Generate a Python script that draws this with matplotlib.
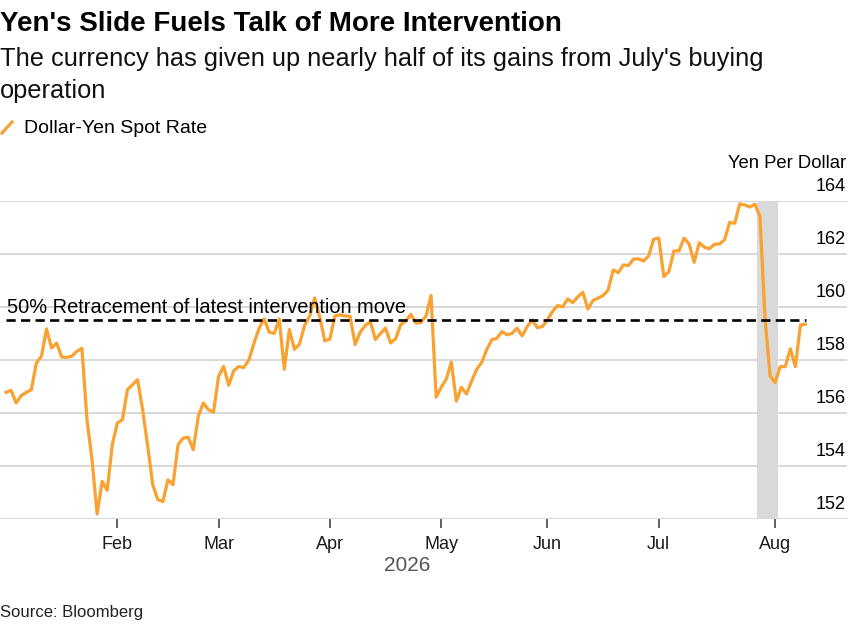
import matplotlib
matplotlib.use("Agg")
import matplotlib.pyplot as plt
import matplotlib.transforms as mtransforms
from matplotlib.lines import Line2D
import pandas as pd

# business days shown on the x axis
dates = pd.bdate_range("2026-01-01", "2026-08-11")

# dollar-yen spot rate (one value per business day)
usdjpy = [
    156.78, 156.86, 156.38, 156.66, 156.78, 156.88, 157.89, 158.14, 159.17, 158.45,
    158.64, 158.11, 158.10, 158.14, 158.33, 158.44, 155.75, 154.24, 152.20, 153.43,
    153.09, 154.81, 155.63, 155.75,
    156.88, 157.07, 157.26, 156.13, 154.75, 153.30, 152.74, 152.67, 153.49, 153.30,
    154.81, 155.06, 155.09, 154.62, 155.88, 156.38, 156.13, 156.03, 157.38, 157.76,
    157.05,
    157.60, 157.75, 157.72, 158.00, 158.63, 159.19, 159.55, 159.05, 159.00, 159.55,
    157.65, 159.15, 158.40, 158.60, 159.30, 159.65, 160.34, 159.62, 158.72, 158.79,
    159.66, 159.70, 159.66, 159.64, 158.58, 159.05, 159.30, 159.45, 158.77, 159.00,
    159.20, 158.64, 158.80, 159.33, 159.47, 159.72, 159.39, 159.41, 159.66, 160.43,
    156.60, 156.97, 157.28, 157.92, 156.45, 156.97, 156.72, 157.20, 157.64, 157.91,
    158.39, 158.76, 158.82, 159.07, 158.95, 159.00, 159.20, 158.91, 159.26, 159.51,
    159.22, 159.26, 159.51, 159.83,
    160.05, 160.00, 160.30, 160.16, 160.38, 160.55, 159.92, 160.24, 160.33, 160.43,
    160.64, 161.39, 161.29, 161.58, 161.56, 161.80, 161.81, 161.73, 161.92, 162.55,
    162.59,
    161.14, 161.33, 162.11, 162.11, 162.59, 162.37, 161.68, 162.42, 162.25, 162.19,
    162.36, 162.37, 162.53, 163.18, 163.15, 163.88, 163.84, 163.76, 163.87, 163.40,
    159.57, 157.40, 157.15, 157.75, 157.75, 158.42, 157.75, 159.32, 159.35,
]

retracement = 159.49
retracement_label = "50% Retracement of latest intervention move"
intervention_days = ("2026-07-29", "2026-08-03")
y_ticks = [152, 154, 156, 158, 160, 162, 164]

ORANGE = "#F9A131"

plt.rcParams["font.family"] = ["Liberation Sans", "DejaVu Sans"]

W, H = 860, 641
fig = plt.figure(figsize=(W / 100, H / 100), dpi=100)
ax = fig.add_axes([0, 1 - 519.3 / H, 847 / W, (519.3 - 200.7) / H])

x = list(range(len(dates)))
ax.plot(x, usdjpy, color=ORANGE, lw=2.3, zorder=3)

# intervention window
i0 = dates.get_loc(pd.Timestamp(intervention_days[0]))
i1 = dates.get_loc(pd.Timestamp(intervention_days[1]))
ax.axvspan(i0 - 0.5, i1 + 0.5, color="#d9d9d9", lw=0, zorder=1)

# 50% retracement level
ax.hlines(retracement, x[0], x[-1], colors="black", lw=1.9,
          linestyles=(0, (3.5, 2.0)), zorder=4)
ax.annotate(retracement_label, xy=(x[0], retracement), xytext=(1, 7),
            textcoords="offset pixels", va="baseline", fontsize=14.4, zorder=5)

ax.set_xlim(-1.19, 166.2)
ax.set_ylim(y_ticks[0], y_ticks[-1])

ax.set_yticks(y_ticks)
ax.yaxis.grid(True, color="#d5d5d5", lw=1.3)
ax.set_axisbelow(True)
ax.tick_params(axis="y", length=0, labelleft=False, labelright=False)
for s in ax.spines.values():
    s.set_visible(False)

# y labels sit above the gridlines on the right
trans = mtransforms.blended_transform_factory(ax.transAxes, ax.transData)
for v in y_ticks:
    ax.annotate(str(v), xy=(1, v), xycoords=trans, xytext=(-1, 10),
                textcoords="offset pixels", ha="right", va="baseline",
                fontsize=13, annotation_clip=False)
fig.text(846 / W, 1 - 168.5 / H, "Yen Per Dollar", ha="right", va="baseline",
         fontsize=13.3)

# month ticks at first business day of each month
month_pos = [i for i in range(1, len(dates)) if dates[i].month != dates[i - 1].month]
ax.set_xticks(month_pos, [dates[i].strftime("%b") for i in month_pos])
ax.tick_params(axis="x", length=6.5, width=1.1, color="#333333", pad=5.5,
               labelsize=13, labelcolor="#1a1a1a")
fig.text(407 / W, 1 - 571 / H, "2026", ha="center", va="baseline",
         color="#555555", fontsize=15)

# title, subtitle, legend, source
fig.text(0, 1 - 30.7 / H, "Yen's Slide Fuels Talk of More Intervention",
         fontsize=20, fontweight="bold", va="baseline")
fig.text(0, 1 - 98.3 / H,
         "The currency has given up nearly half of its gains from July's buying\noperation",
         fontsize=18.3, va="baseline", linespacing=1.45, color="#111111")
fig.add_artist(Line2D([2 / W, 12 / W], [1 - 133 / H, 1 - 122 / H],
                      transform=fig.transFigure, color=ORANGE, lw=2.3))
fig.text(24 / W, 1 - 133.3 / H, "Dollar-Yen Spot Rate", fontsize=14,
         va="baseline")
fig.text(0, 1 - 617 / H, "Source: Bloomberg", fontsize=12, va="baseline",
         color="#222222")

fig.savefig("out.png", dpi=100)
